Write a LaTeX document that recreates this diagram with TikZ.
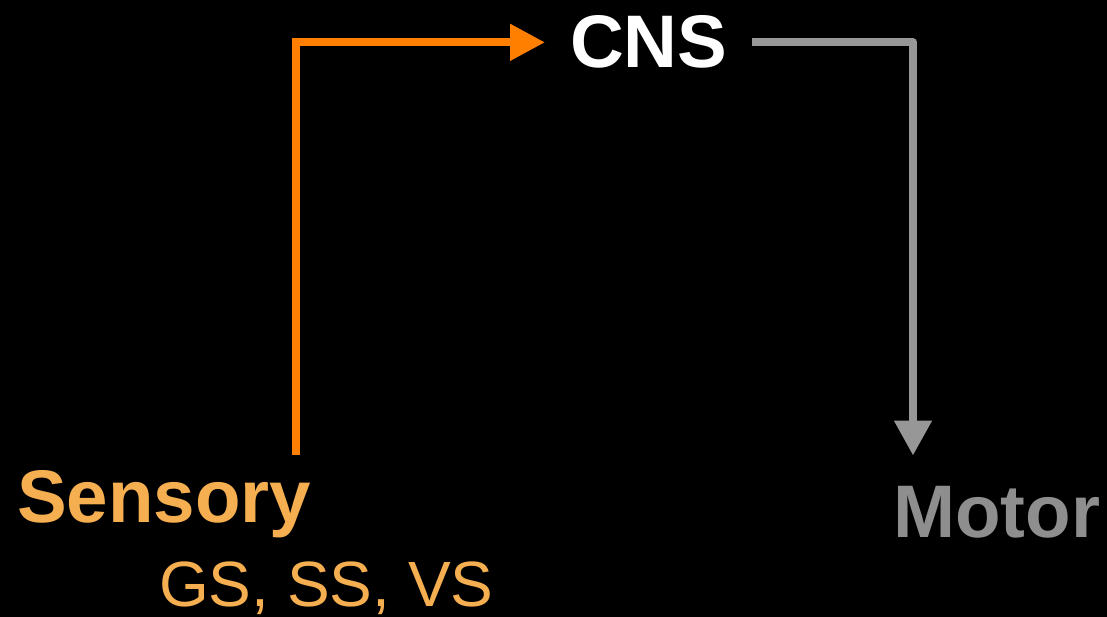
\documentclass[tikz,border=0pt]{standalone}
\usepackage{fontspec}
\setmainfont{Liberation Sans}
\usepackage{xcolor}
\usetikzlibrary{arrows.meta,positioning}

\definecolor{sensorange}{HTML}{FF8000}
\definecolor{senstext}{HTML}{F5AF50}
\definecolor{motorgrey}{HTML}{979797}
\definecolor{motortext}{HTML}{8E8E8E}

\begin{document}
\begin{tikzpicture}[x=1pt,y=-1pt,
  label/.style={inner sep=0pt,anchor=base west},
  bigtext/.style={label,font=\fontsize{74.5}{80}\selectfont\bfseries},
  sensline/.style={draw=sensorange,line width=8pt,line join=miter,
    -{Triangle[length=35pt,width=35pt]}},
  motorline/.style={draw=motorgrey,line width=8pt,line join=round,
    -{Triangle[length=35pt,width=36pt]}}]

%Background and frame
\path[fill=black] (0,0) rectangle (1107,617);

%Labels
\node[bigtext,text=white] (cns) at (570,68) {CNS};
\node[bigtext,text=senstext] (sensory) at (17,522) {Sensory};
\node[label,text=senstext,font=\fontsize{64}{70}\selectfont] (senssub) at (159,606) {GS, SS, VS};
\node[bigtext,text=motortext] (motor) at (893,537) {Motor};

%Draw the pathways
\draw[sensline] ([xshift=-15pt,yshift=15pt]sensory.north east) |- ([xshift=-25pt]cns.west);
\draw[motorline] ([xshift=24pt]cns.east) -| ([xshift=20pt,yshift=30pt]motor.north west);

\end{tikzpicture}
\end{document}
